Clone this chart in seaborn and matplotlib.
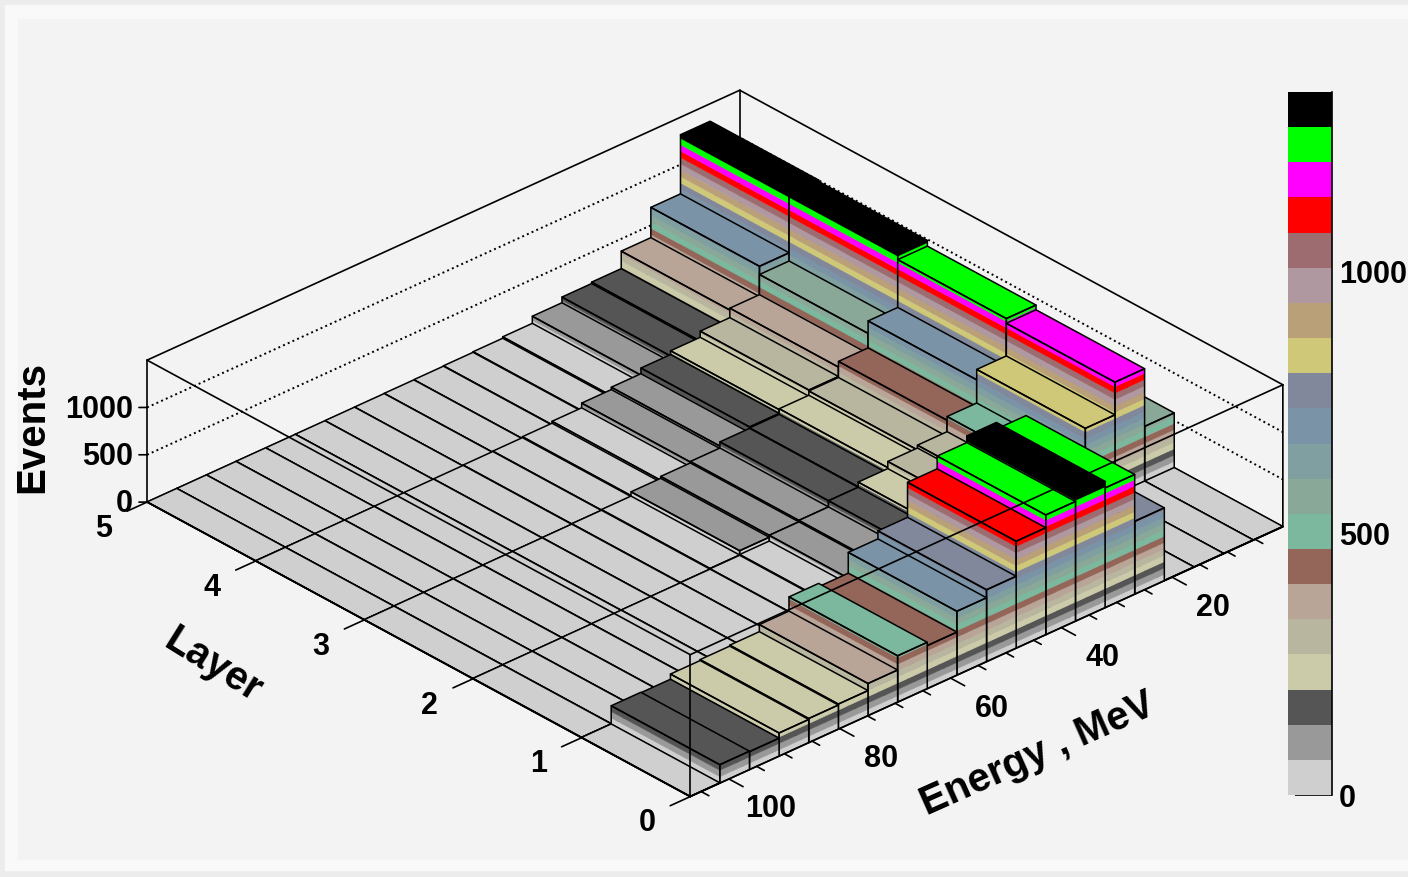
import numpy as np
import matplotlib
matplotlib.use("Agg")
import matplotlib.pyplot as plt
from matplotlib.patches import Rectangle
from mpl_toolkits.mplot3d import proj3d
from mpl_toolkits.mplot3d.art3d import Poly3DCollection
import seaborn as sns

sns.set_theme(style="white")
plt.rcParams['font.family'] = ['Liberation Sans', 'DejaVu Sans']
plt.rcParams['font.weight'] = 'bold'
plt.rcParams['text.color'] = 'black'
plt.rcParams['ytick.labelcolor'] = 'black'

# events per cell, each list runs from low energy to high energy
layer_0 = [3, 3, 3, 3, 770, 1265, 1335, 1265, 1130, 760, 675, 455, 490, 340, 265, 255, 245, 190, 195, 3]
layer_1 = [580, 1190, 845, 490, 330, 300, 225, 170, 105, 90, 30, 22, 18, 16, 14, 12, 10, 8, 6, 4]
layer_2 = [500, 1240, 735, 450, 280, 235, 175, 170, 105, 90, 70, 25, 18, 14, 12, 10, 8, 6, 5, 3]
layer_3 = [400, 1300, 603, 390, 290, 225, 185, 125, 100, 50, 30, 20, 16, 12, 10, 8, 6, 5, 3, 2]
layer_4 = [300, 1315, 690, 370, 185, 170, 110, 35, 20, 14, 10, 8, 6, 5, 4, 3, 3, 2, 2, 2]
layers = [layer_0, layer_1, layer_2, layer_3, layer_4]

energy_max = 107.0
events_max = 1500.0
level_top = 1344.0
energy_ticks = [20, 40, 60, 80, 100]
energy_minor = [5, 10, 15, 25, 30, 35, 45, 50, 55, 65, 70, 75, 85, 90, 95, 105]
layer_ticks = [0, 1, 2, 3, 4, 5]
event_ticks = [0, 500, 1000]

# palette from the colour key, bottom to top
palette = ['#cfcfcf', '#999999', '#555555', '#cbcbaa', '#b9b6a0', '#b9a598', '#94665a',
           '#7cb89e', '#8aa898', '#7f9fa0', '#7b93a6', '#81889c', '#cfc878', '#b9a078',
           '#b098a0', '#9c6c70', '#ff0000', '#ff00ff', '#00ff00', '#000000']
levels = np.linspace(0, level_top, len(palette) + 1)
energy_edges = np.linspace(0, energy_max, len(layer_0) + 1)


def band_of(h):
    return min(int(h / (levels[1] - levels[0])), len(palette) - 1)


def bar_polys(u, i, h):
    e0, e1 = energy_edges[i], energy_edges[i + 1]
    polys, colors = [], []
    for b in range(band_of(h) + 1):
        lo, hi = levels[b], min(levels[b + 1], h)
        polys.append([(u, e0, lo), (u, e1, lo), (u, e1, hi), (u, e0, hi)])
        colors.append(palette[b])
        polys.append([(u, e1, lo), (u + 1, e1, lo), (u + 1, e1, hi), (u, e1, hi)])
        colors.append(palette[b])
    polys.append([(u, e0, h), (u, e1, h), (u + 1, e1, h), (u + 1, e0, h)])
    colors.append(palette[band_of(h)])
    outline = [
        [(u, e0, 0), (u, e1, 0), (u, e1, h), (u, e0, h)],
        [(u, e1, 0), (u + 1, e1, 0), (u + 1, e1, h), (u, e1, h)],
        [(u, e0, h), (u, e1, h), (u + 1, e1, h), (u + 1, e0, h)],
    ]
    return polys, colors, outline


fig = plt.figure(figsize=(14.08, 8.77), dpi=100, facecolor='#ececec')
fig.add_artist(Rectangle((5 / 1408, 7 / 877), 1403 / 1408, 865 / 877, transform=fig.transFigure,
                         color='#f9f9f9', zorder=-3))
fig.add_artist(Rectangle((18 / 1408, 18 / 877), 1390 / 1408, 840 / 877, transform=fig.transFigure,
                         color='#f3f3f3', zorder=-2))

# square axes, placed so the box lands where the original has it
ax = fig.add_axes([142.4 / 1408, -139 / 877, 1115 / 1408, 1115 / 877], projection='3d')
ax.set_proj_type('ortho')
ax.view_init(elev=29.8, azim=137.5)
ax.set_box_aspect((1, 1, 0.2035))
ax.computed_zorder = False
ax.set_axis_off()
ax.patch.set_alpha(0)
ax.set_xlim(0, 5)
ax.set_ylim(0, energy_max)
ax.set_zlim(0, events_max)


def line(us, es, zs, zorder=1, lw=1.2, ls='-'):
    ax.plot(us, es, zs, color='black', lw=lw, ls=ls, zorder=zorder, clip_on=False)


def label(u, e, z, s, **kw):
    # Text3D ignores rotation, so project the anchor and place plain text there
    px, py, _ = proj3d.proj_transform(u, e, z, ax.get_proj())
    ax.text2D(px, py, s, transform=ax.transData, va='center', zorder=order, clip_on=False,
              rotation_mode='anchor', **kw)


# back of the box
line([5, 5, 0, 0], [energy_max, 0, 0, 0], [0, 0, 0, events_max])
line([5, 5, 0], [energy_max, 0, 0], [events_max, events_max, events_max])
line([5, 5], [0, 0], [0, events_max])
line([5, 5], [energy_max, energy_max], [0, events_max])
for z in event_ticks[1:]:
    line([5, 5, 0], [energy_max, 0, 0], [z, z, z], ls=':', lw=1.4)

# bars, drawn from the far corner to the near one
order = 10
for u in range(len(layers) - 1, -1, -1):
    for i in range(len(layer_0)):
        polys, colors, outline = bar_polys(u, i, layers[u][i])
        faces = Poly3DCollection(polys, facecolors=colors, edgecolors=colors, linewidths=0.3)
        faces.set_zorder(order)
        faces.set_clip_on(False)
        ax.add_collection3d(faces, autolim=False)
        edges = Poly3DCollection(outline, facecolors=(0, 0, 0, 0), edgecolors='black', linewidths=1.1)
        edges.set_zorder(order + 1)
        edges.set_clip_on(False)
        ax.add_collection3d(edges, autolim=False)
        order += 2

# front of the box goes over the bars
line([5, 0, 0], [energy_max, energy_max, 0], [0, 0, 0], zorder=order)
line([5, 0, 0], [energy_max, energy_max, 0], [events_max, events_max, events_max], zorder=order)
line([0, 0], [energy_max, energy_max], [0, events_max], zorder=order)

for e in energy_ticks:
    line([0, -0.13], [e, e], [0, 0], zorder=order)
    label(-0.38, e, -85, str(e), fontsize=22, ha='center')
for e in energy_minor:
    line([0, -0.07], [e, e], [0, 0], zorder=order)
for t in layer_ticks:
    line([t, t], [energy_max, energy_max + 3.6], [0, 0], zorder=order)
    label(t, energy_max + 7.8, -75, str(t), fontsize=22, ha='center')
for z in event_ticks:
    line([5, 5.034], [energy_max, energy_max + 0.8], [z, z], zorder=order)
    label(5.06, energy_max + 1.4, z - 25, str(z), fontsize=22, ha='right')

label(3.22, energy_max + 23.1, 0, 'Layer', fontsize=29, rotation=-32, ha='center')
label(-1.07, energy_max - 41.7, 0, 'Energy , MeV', fontsize=29, rotation=24, ha='center')
label(6.17, energy_max - 2.3, 0, 'Events', fontsize=29, rotation=90, ha='center')

# colour key
cax = fig.add_axes([1288 / 1408, 82 / 877, 44 / 1408, 703 / 877])
key = np.arange(len(palette))[::-1].reshape(-1, 1)
sns.heatmap(key, cmap=palette, vmin=0, vmax=len(palette) - 1, cbar=False,
            xticklabels=False, yticklabels=False, ax=cax)
band = levels[1] - levels[0]
cax.yaxis.tick_right()
cax.set_yticks([(level_top - z) / band for z in event_ticks])
cax.set_yticklabels([str(z) for z in event_ticks], fontsize=22, fontweight='bold', rotation=0)
cax.tick_params(axis='y', direction='in', length=27, width=1.2, color='black', right=True, left=False, pad=5)
for side in ['top', 'left', 'bottom']:
    cax.spines[side].set_visible(False)
cax.spines['right'].set_visible(True)
cax.spines['right'].set_color('black')
cax.spines['right'].set_linewidth(1.2)

fig.savefig("out.png", dpi=100, facecolor=fig.get_facecolor())
